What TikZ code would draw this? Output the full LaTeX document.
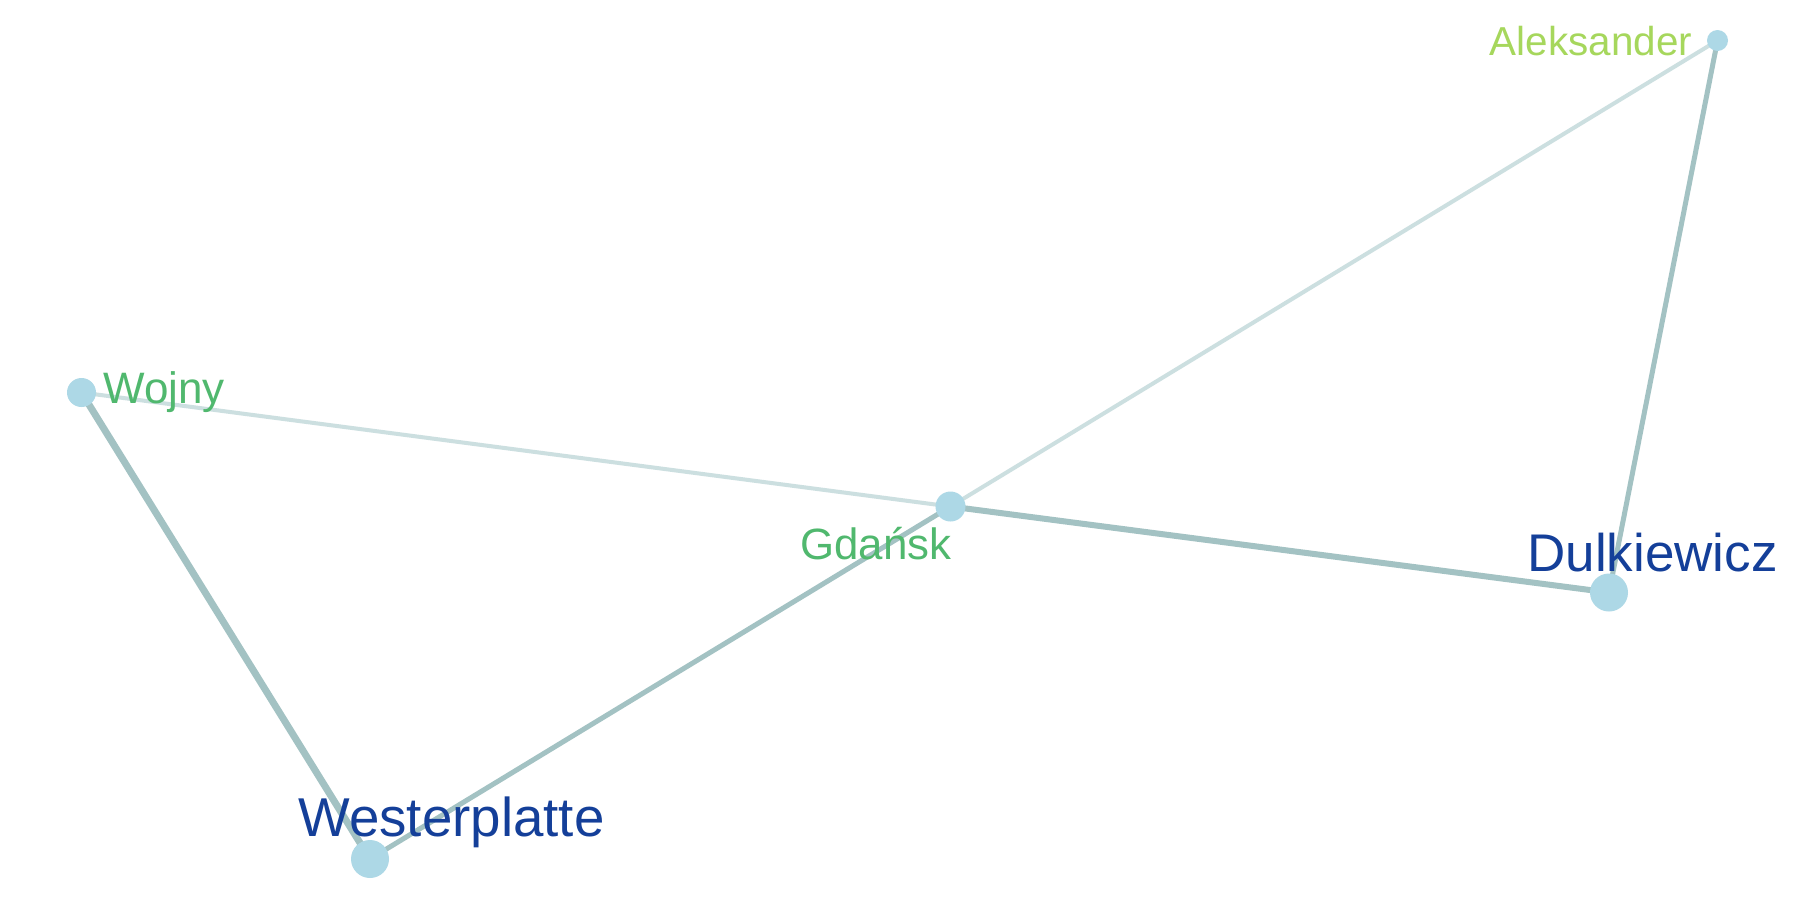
\documentclass[tikz,border=0pt]{standalone}
\usepackage{fontspec}
\setmainfont{Liberation Sans}
\definecolor{nodefill}{HTML}{ADD8E6}
\definecolor{edgelight}{HTML}{CCDFE0}
\definecolor{edgedark}{HTML}{A3C2C3}
\definecolor{lblgreenl}{RGB}{166,215,92}
\definecolor{lblgreen}{RGB}{80,184,110}
\definecolor{lblblue}{RGB}{20,63,153}
\tikzset{
  vtx/.style={circle,fill=nodefill,draw=none,inner sep=0pt,minimum size=#1},
  lbl/.style={inner sep=0pt,anchor=base},
  elight/.style={draw=edgelight,line width=#1},
  edark/.style={draw=edgedark,line width=#1},
}
\begin{document}
\begin{tikzpicture}[x=1pt,y=-1pt]
\useasboundingbox (0,0) rectangle (1800,900);
\fill[white] (0,0) rectangle (1800,900);
\coordinate (cA) at (1717.5,40.5);
\coordinate (cW) at (81.5,392.5);
\coordinate (cG) at (950.5,506.5);
\coordinate (cD) at (1609,592.5);
\coordinate (cP) at (370,859);
% edges
\draw[elight=4pt] (cA) -- (cG);
\draw[edark=5pt] (cA) -- (cD);
\draw[elight=4pt] (cW) -- (cG);
\draw[edark=6pt] (cG) -- (cD);
\draw[edark=7pt] (cW) -- (cP);
\draw[edark=5pt] (cG) -- (cP);
% vertices
\node[vtx=21pt] (A) at (cA) {};
\node[vtx=29pt] (W) at (cW) {};
\node[vtx=30pt] (G) at (cG) {};
\node[vtx=38pt] (D) at (cD) {};
\node[vtx=38pt] (P) at (cP) {};
% labels
\node[lbl,text=lblgreenl,font=\fontsize{40.4}{44}\selectfont] (tA) at (1591,55) {Aleksander};
\node[lbl,text=lblgreen,font=\fontsize{44}{48}\selectfont] (tW) at (164,403.3) {Wojny};
\node[lbl,text=lblgreen,font=\fontsize{43.8}{48}\selectfont] (tG) at (876,559) {Gdańsk};
\node[lbl,text=lblblue,font=\fontsize{53}{58}\selectfont] (tD) at (1652.5,571.7) {Dulkiewicz};
\node[lbl,text=lblblue,font=\fontsize{54.7}{60}\selectfont] (tP) at (451.5,836.7) {Westerplatte};
\end{tikzpicture}
\end{document}
